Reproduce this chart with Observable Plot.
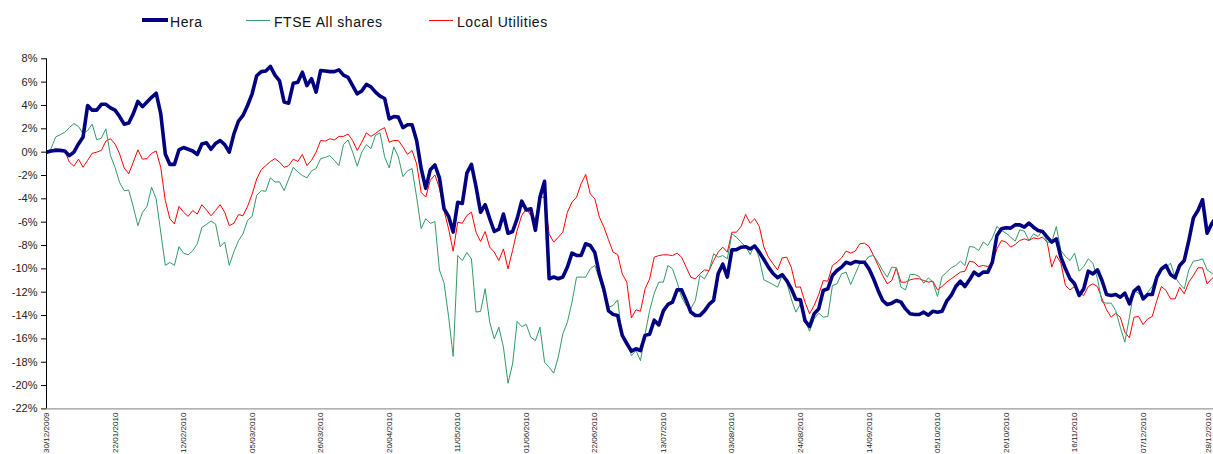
<!DOCTYPE html>
<html>
<head>
<meta charset="utf-8">
<script src="https://cdn.jsdelivr.net/npm/d3@7"></script>
<script src="https://cdn.jsdelivr.net/npm/@observablehq/plot@0.6"></script>
<style>
  html, body { margin: 0; padding: 0; background: #fff; overflow: hidden; }
  body { width: 1213px; height: 454px; font-family: "Liberation Sans", Arial, sans-serif; }
  #legend { position: relative; height: 40px; width: 1213px; }
  .sw { position: absolute; height: 0; }
  .lt { position: absolute; top: 14px; font-size: 14px; letter-spacing: 0.55px; color: #111; line-height: 16px; white-space: nowrap; }
</style>
</head>
<body>
<div id="legend"></div>
<div id="chart"></div>
<script>
// ---- data (daily, index 0 = 30/12/2009), % change ----
const seriesNames = ["Hera", "FTSE All shares", "Local Utilities"];
const seriesColors = ["#000080", "#339966", "#ff0000"];
const seriesWidths = [3.6, 1, 1];

const hera = [
  0, 0.1, 0.15, 0.15, 0.1, -0.3, 0, 0.7, 1.3, 4.0,
  3.6, 3.6, 4.1, 4.1, 3.8, 3.6, 3.05, 2.4, 2.5, 3.3,
  4.35, 3.9, 4.3, 4.7, 5.05, 3.3, -0.15, -1.05, -1.05, 0.2,
  0.4, 0.25, 0.1, -0.2, 0.7, 0.8, 0.25, 0.75, 1.0, 0.65,
  0, 1.55, 2.65, 3.15, 4.0, 5.0, 6.55, 6.9, 6.95, 7.35,
  6.6, 6.1, 4.3, 4.2, 5.9, 6.0, 6.85, 5.7, 6.3, 5.15,
  7.0, 6.95, 6.9, 6.9, 7.05, 6.6, 6.4, 5.7, 5.0, 5.25,
  5.8, 5.6, 5.15, 4.8, 4.6, 2.85, 3.05, 3.0, 2.1, 2.35,
  2.35, 1.0, -1.4, -3.1, -1.5, -1.1, -2.2, -4.85, -5.5, -6.85,
  -4.3, -4.4, -1.8, -1.05, -2.95, -5.15, -4.5, -5.7, -6.8, -6.6,
  -5.3, -6.95, -6.8, -5.7, -4.2, -4.95, -4.85, -6.7, -3.85, -2.5,
  -10.85, -10.7, -10.85, -10.7, -9.85, -8.65, -8.85, -8.85, -7.85, -8.0,
  -8.6, -10.45, -11.8, -13.6, -13.9, -14.0, -15.7, -16.4, -17.05, -16.85,
  -17.0, -15.7, -15.6, -14.4, -14.8, -13.6, -13.05, -12.85, -11.8, -11.8,
  -12.7, -13.7, -14.0, -14.0, -13.6, -13.05, -12.7, -10.4, -9.6, -10.7,
  -8.37, -8.35, -8.15, -8.1, -8.3, -8.05, -8.57, -9.2, -9.85, -10.4,
  -10.75, -10.5, -11.0, -11.7, -12.6, -12.65, -14.43, -14.94, -13.85, -13.43,
  -11.85, -11.71, -10.57, -10.14, -9.85, -9.43, -9.57, -9.37, -9.43, -9.43,
  -10.0, -10.85, -11.85, -12.71, -13.06, -12.94, -12.71, -12.85, -13.43, -13.85,
  -13.91, -13.91, -13.71, -13.97, -13.63, -13.71, -13.63, -12.77, -12.28, -11.51,
  -11.06, -11.51, -10.94, -10.28, -10.57, -10.28, -10.28, -9.43, -7.14, -6.57,
  -6.48, -6.51, -6.23, -6.23, -6.43, -6.08, -6.43, -6.71, -6.8, -7.28,
  -7.71, -7.43, -9.0, -10.0, -10.85, -11.28, -12.28, -11.71, -10.2, -10.43,
  -10.08, -11.0, -12.2, -12.28, -12.2, -12.43, -12.08, -13.0, -11.91, -11.57,
  -12.57, -12.2, -12.2, -10.71, -10.0, -9.71, -10.48, -10.77, -9.71, -9.28,
  -7.57, -5.63, -5.0, -4.08, -6.94, -6.14, -5.57
];

const ftse = [
  0, 0.3, 1.3, 1.5, 1.7, 2.1, 2.45, 2.2, 1.6, 1.85,
  2.4, 1.05, 1.2, 2.0, -0.3, -1.3, -2.6, -3.3, -3.25, -4.7,
  -6.3, -5.15, -4.65, -3.0, -4.0, -6.85, -9.7, -9.45, -9.7, -8.1,
  -8.65, -8.8, -8.45, -7.85, -6.45, -6.2, -5.9, -6.15, -8.1, -7.7,
  -9.7, -8.55, -7.6, -7.0, -5.85, -5.5, -3.7, -3.3, -3.35, -2.2,
  -2.55, -2.55, -3.3, -2.3, -1.3, -1.7, -2.0, -2.2, -1.6, -1.4,
  -0.55, -0.45, -0.3, -0.7, -1.15, 0.65, 1.05, 0, -1.2, 0,
  0.65, 0.3, 1.45, 1.65, -0.4, -1.35, 0.45, -0.4, -2.1, -1.6,
  -1.4, -3.85, -6.55, -5.7, -6.1, -5.95, -10.1, -11.2, -14.1, -17.5,
  -8.85, -9.3, -8.6, -9.15, -13.7, -13.65, -11.7, -14.57, -16.0, -15.0,
  -16.7, -19.8, -18.15, -14.5, -14.95, -14.77, -15.86, -16.15, -15.0, -18.0,
  -18.43, -18.94, -17.57, -15.57, -14.57, -12.86, -10.71, -10.71, -10.71, -10.0,
  -9.71, -10.86, -12.14, -13.29, -13.14, -12.66, -15.86, -16.14, -17.43, -17.0,
  -17.86, -15.57, -13.57, -12.09, -11.14, -11.14, -9.71, -10.0, -11.14, -12.43,
  -13.14, -13.43, -12.71, -10.57, -10.86, -10.14, -8.71, -9.0, -8.86, -9.14,
  -7.0, -7.29, -7.71, -8.09, -8.77, -7.91, -9.14, -10.94, -11.14, -11.34,
  -11.57, -10.57, -11.14, -12.57, -13.71, -13.0, -14.43, -15.34, -14.28, -13.8,
  -14.14, -14.08, -11.43, -11.28, -10.43, -10.28, -11.34, -10.43, -9.51, -9.43,
  -8.94, -8.85, -9.43, -10.14, -10.71, -9.85, -9.91, -11.57, -11.8, -10.48,
  -10.48, -10.65, -11.23, -10.77, -11.14, -12.37, -10.65, -10.28, -9.91, -9.71,
  -9.34, -9.71, -8.08, -8.14, -8.43, -7.71, -8.0, -7.34, -6.37, -6.71,
  -6.94, -7.28, -7.63, -6.65, -6.77, -7.57, -7.0, -7.23, -6.71, -7.71,
  -7.71, -6.37, -8.43, -8.94, -9.28, -8.65, -10.2, -9.8, -9.14, -9.51,
  -10.85, -12.85, -12.94, -12.94, -13.57, -15.0, -16.28, -14.14, -11.85, -12.08,
  -12.57, -12.0, -11.51, -10.57, -10.14, -9.91, -9.51, -10.71, -11.28, -11.71,
  -10.08, -9.34, -9.28, -9.14, -10.08, -10.37, -10.4
];

const localUtilities = [
  0, 0.15, 0.3, 0.2, 0.1, -0.85, -1.2, -0.6, -1.3, -0.7,
  -0.1, 0, 0.15, 0.95, 1.15, 0.7, -0.15, -1.35, -1.85, -0.85,
  0.2, -0.6, -0.55, -0.1, 0.1, -1.3, -4.15, -5.7, -6.15, -4.65,
  -5.15, -5.5, -5.0, -5.3, -4.5, -4.95, -5.45, -5.0, -4.5, -5.15,
  -6.3, -6.1, -5.35, -5.45, -4.65, -3.6, -2.3, -1.5, -1.15, -0.8,
  -0.55, -0.85, -1.3, -1.15, -0.6, -0.8, -0.2, -1.15, -0.7, 0,
  1.0, 0.95, 1.15, 1.05, 1.35, 1.35, 1.55, 1.0, 0.15, 0.85,
  1.65, 1.35, 1.6, 1.9, 2.1, 0.85, 1.0, 1.0, 0.45, -0.2,
  0.15, -1.0, -3.45, -3.85, -2.4, -1.95, -3.1, -5.0, -6.57, -8.49,
  -6.0, -6.09, -5.43, -5.14, -6.86, -7.66, -6.8, -8.14, -8.57, -9.29,
  -8.29, -10.0, -8.43, -6.71, -5.43, -4.86, -5.43, -5.71, -3.86, -3.86,
  -7.0, -7.71, -7.29, -6.86, -5.14, -4.29, -3.86, -2.71, -1.91, -3.57,
  -4.0, -5.57, -6.43, -7.51, -8.57, -8.77, -10.43, -11.14, -14.2, -13.51,
  -13.63, -11.71, -10.86, -9.0, -8.86, -8.8, -8.8, -8.86, -8.66, -9.0,
  -9.86, -10.71, -10.86, -10.43, -10.09, -10.14, -9.29, -8.57, -8.14, -8.57,
  -6.86, -6.86, -6.37, -5.34, -6.09, -5.71, -6.37, -8.14, -9.0, -9.57,
  -10.09, -9.06, -9.0, -9.86, -11.57, -11.55, -12.85, -13.85, -13.14, -12.2,
  -11.0, -11.06, -9.71, -9.43, -9.06, -8.48, -8.65, -8.48, -7.85, -7.8,
  -8.08, -8.85, -9.71, -10.57, -11.28, -11.0, -9.91, -11.14, -11.14, -10.94,
  -10.85, -10.85, -11.0, -11.14, -11.06, -11.8, -11.51, -11.14, -10.85, -10.57,
  -10.28, -10.2, -9.34, -9.43, -9.8, -9.71, -9.8, -9.57, -8.28, -7.57,
  -7.71, -8.14, -7.91, -7.57, -7.43, -7.57, -7.34, -7.43, -7.28, -7.71,
  -9.85, -8.85, -9.51, -11.43, -11.8, -11.51, -12.08, -12.28, -11.51, -11.28,
  -11.51, -12.57, -13.51, -14.14, -13.8, -14.14, -15.43, -15.91, -14.14, -14.08,
  -14.77, -14.28, -14.08, -12.71, -11.51, -11.85, -12.57, -12.57, -11.57, -12.14,
  -11.14, -10.57, -9.91, -9.91, -11.28, -10.85, -10.6
];

const tickIndex = [0, 15, 30, 45, 60, 75, 90, 105, 120, 135, 150, 165, 180, 195, 210, 225, 240, 255];
const tickLabels = ["30/12/2009", "22/01/2010", "12/02/2010", "05/03/2010", "26/03/2010", "20/04/2010",
  "11/05/2010", "01/06/2010", "22/06/2010", "13/07/2010", "03/08/2010", "24/08/2010",
  "14/09/2010", "05/10/2010", "26/10/2010", "16/11/2010", "07/12/2010", "28/12/2010"];
const yTicks = [8, 6, 4, 2, 0, -2, -4, -6, -8, -10, -12, -14, -16, -18, -20, -22];

// ---- legend ----
const legendLayout = [
  {sw: 142, w: 26, tx: 170},
  {sw: 246, w: 24, tx: 274},
  {sw: 429, w: 24, tx: 457}
];
const legend = document.getElementById("legend");
seriesNames.forEach((name, k) => {
  const sw = document.createElement("div");
  sw.className = "sw";
  sw.style.left = legendLayout[k].sw + "px";
  sw.style.width = legendLayout[k].w + "px";
  sw.style.borderTop = `${k === 0 ? 4 : 1}px solid ${seriesColors[k]}`;
  sw.style.top = (k === 0 ? 18 : 20) + "px";
  legend.appendChild(sw);
  const t = document.createElement("div");
  t.className = "lt";
  t.style.left = legendLayout[k].tx + "px";
  t.textContent = name;
  legend.appendChild(t);
});

// ---- chart ----
const allSeries = [hera, ftse, localUtilities];
const rows = [];
allSeries.forEach((arr, k) => arr.forEach((v, i) => rows.push({s: seriesNames[k], i, v})));
const labelMap = new Map(tickIndex.map((d, k) => [d, tickLabels[k]]));

const lineMarks = [2, 1, 0].map(k =>
  Plot.lineY(rows.filter(r => r.s === seriesNames[k]), {
    x: "i", y: "v", stroke: seriesColors[k], strokeWidth: seriesWidths[k],
    strokeLinejoin: "round", strokeLinecap: "round", clip: true
  })
);

const chart = Plot.plot({
  width: 1213,
  height: 414,
  marginLeft: 46,
  marginRight: 0,
  marginTop: 18.3,
  marginBottom: 45.6,
  style: {fontFamily: "'Liberation Sans', Arial, sans-serif", background: "#fff", overflow: "visible"},
  x: {domain: [0, 255.4], axis: null},
  y: {domain: [-22, 8], axis: null},
  marks: [
    ...lineMarks,
    Plot.ruleY([-22], {stroke: "#7f7f7f", strokeWidth: 1}),
    Plot.ruleX([0], {stroke: "#000", strokeWidth: 1}),
    Plot.axisY(yTicks, {
      tickFormat: d => d + "%", tickSize: 5, tickPadding: 4, fontSize: 11,
      stroke: "#000", color: "#222", label: null
    }),
    Plot.axisX(tickIndex, {
      tickFormat: d => labelMap.get(d), tickSize: 0, tickPadding: 3.5, tickRotate: -90,
      fontSize: 8, label: null, color: "#222"
    })
  ]
});
document.getElementById("chart").appendChild(chart);
const xLabels = chart.querySelectorAll("g[aria-label='x-axis tick label'] text");
xLabels.forEach(t => t.setAttribute("letter-spacing", "0.05"));
// keep the last (edge) label fully inside the picture
const lastLabel = xLabels[xLabels.length - 1];
if (lastLabel) {
  const tr = lastLabel.getAttribute("transform") || "";
  lastLabel.setAttribute("transform", "translate(-3,0) " + tr);
}
</script>
</body>
</html>
